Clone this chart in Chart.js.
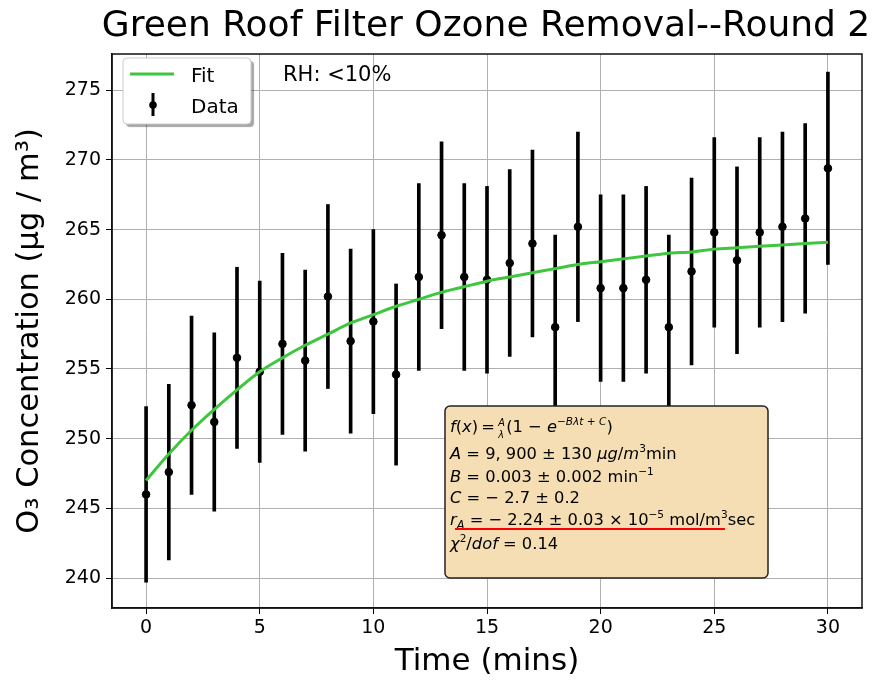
<!DOCTYPE html>
<html>
<head>
<meta charset="utf-8">
<script src="https://cdn.jsdelivr.net/npm/chart.js@4.4.0/dist/chart.umd.min.js"></script>
<style>
  html, body { margin: 0; padding: 0; background: #fff; }
  #wrap { width: 875px; height: 681px; }
</style>
</head>
<body>
<div id="wrap"><canvas id="ozoneChart" width="875" height="681"></canvas></div>
<script>
const timeMins = [0, 1, 2, 3, 4, 5, 6, 7, 8, 9, 10, 11, 12, 13, 14, 15, 16, 17, 18, 19, 20, 21, 22, 23, 24, 25, 26, 27, 28, 29, 30];
const o3Conc = [246.0, 247.6, 252.4, 251.2, 255.8, 254.8, 256.8, 255.6, 260.2, 257.0, 258.4, 254.6, 261.6, 264.6, 261.6, 261.4,
  262.6, 264.0, 258.0, 265.2, 260.8, 260.8, 261.4, 258.0, 262.0, 264.8, 262.8, 264.8, 265.2, 265.8, 269.4];
const o3Err = [6.3, 6.3, 6.4, 6.4, 6.5, 6.5, 6.5, 6.5, 6.6, 6.6, 6.6, 6.5, 6.7, 6.7, 6.7, 6.7,
  6.7, 6.7, 6.6, 6.8, 6.7, 6.7, 6.7, 6.6, 6.7, 6.8, 6.7, 6.8, 6.8, 6.8, 6.9];
const fitConc = [247.0, 248.9, 250.6, 252.1, 253.5, 254.8, 255.8, 256.7, 257.5, 258.3, 258.9, 259.5, 260.0, 260.5, 260.9, 261.3,
  261.6, 261.9, 262.2, 262.5, 262.7, 262.9, 263.1, 263.3, 263.4, 263.6, 263.7, 263.8, 263.9, 264.0, 264.1];
const xTickVals = [0, 5, 10, 15, 20, 25, 30];
const yTickVals = [240, 245, 250, 255, 260, 265, 270, 275];

const FONT = "'DejaVu Sans', sans-serif";
const FIT_GREEN = "#3ec63e";

// draws a run of text pieces (italic / super / sub) left to right
function drawRich(ctx, x, y, segs, size) {
  segs.forEach(s => {
    const sc = s.sc || 1;
    ctx.font = `${s.it ? "italic " : ""}${size * sc}px ${FONT}`;
    ctx.fillText(s.t, x, y + (s.dy || 0));
    x += ctx.measureText(s.t).width;
  });
  return x;
}

const overlay = {
  id: "overlay",
  afterDraw(chart) {
    const ctx = chart.ctx;
    const a = chart.chartArea;
    ctx.save();

    // frame
    ctx.strokeStyle = "#111";
    ctx.lineWidth = 1.5;
    ctx.strokeRect(a.left, a.top, a.right - a.left, a.bottom - a.top);

    // title
    ctx.fillStyle = "#000";
    ctx.textAlign = "center";
    ctx.textBaseline = "alphabetic";
    ctx.font = `36px ${FONT}`;
    ctx.fillText("Green Roof Filter Ozone Removal--Round 2", (a.left + a.right) / 2 - 1, 36);

    // RH note
    ctx.textAlign = "left";
    ctx.font = `21px ${FONT}`;
    ctx.fillText("RH: <10%", 283, 81);

    // legend
    ctx.shadowColor = "rgba(0,0,0,0.35)";
    ctx.shadowOffsetX = 3;
    ctx.shadowOffsetY = 3;
    ctx.shadowBlur = 1;
    ctx.fillStyle = "#fff";
    ctx.beginPath();
    ctx.roundRect(123, 58, 128, 66, 4);
    ctx.fill();
    ctx.shadowColor = "transparent";
    ctx.strokeStyle = "#ccc";
    ctx.lineWidth = 1;
    ctx.stroke();
    ctx.strokeStyle = FIT_GREEN;
    ctx.lineWidth = 3;
    ctx.beginPath();
    ctx.moveTo(130, 74);
    ctx.lineTo(174, 74);
    ctx.stroke();
    ctx.strokeStyle = "#000";
    ctx.lineWidth = 3;
    ctx.beginPath();
    ctx.moveTo(153, 93);
    ctx.lineTo(153, 116);
    ctx.stroke();
    ctx.fillStyle = "#000";
    ctx.beginPath();
    ctx.arc(153, 105, 3.8, 0, Math.PI * 2);
    ctx.fill();
    ctx.font = `20px ${FONT}`;
    ctx.fillText("Fit", 191, 82);
    ctx.fillText("Data", 191, 113);

    // fit-parameter box
    ctx.fillStyle = "#f5deb3";
    ctx.strokeStyle = "#222";
    ctx.lineWidth = 1.5;
    ctx.beginPath();
    ctx.roundRect(445, 406, 323, 172, 5);
    ctx.fill();
    ctx.stroke();

    ctx.fillStyle = "#000";
    const fs = 16.3;
    const x0 = 450;
    let x = drawRich(ctx, x0, 432, [
      { t: "f", it: true }, { t: "(" }, { t: "x", it: true }, { t: ")\u2009=\u2009" }
    ], fs);
    ctx.font = `italic ${fs * 0.6}px ${FONT}`;
    ctx.fillText("A", x, 426);
    ctx.fillText("\u03bb", x, 438);
    x += 8;
    drawRich(ctx, x, 432, [
      { t: "(1 \u2212 " }, { t: "e", it: true },
      { t: "\u2212B\u03bbt + C", it: true, sc: 0.65, dy: -7 }, { t: ")" }
    ], fs);
    drawRich(ctx, x0, 459, [
      { t: "A", it: true }, { t: " = 9, 900 \u00b1 130 " }, { t: "\u03bcg", it: true }, { t: "/" },
      { t: "m", it: true }, { t: "3", sc: 0.65, dy: -7 }, { t: "min" }
    ], fs);
    drawRich(ctx, x0, 482, [
      { t: "B", it: true }, { t: " = 0.003 \u00b1 0.002 min" }, { t: "\u22121", sc: 0.65, dy: -7 }
    ], fs);
    drawRich(ctx, x0, 503, [
      { t: "C", it: true }, { t: " = \u2212 2.7 \u00b1 0.2" }
    ], fs);
    drawRich(ctx, x0, 525, [
      { t: "r", it: true }, { t: "A", it: true, sc: 0.7, dy: 4 },
      { t: " = \u2212 2.24 \u00b1 0.03 \u00d7 10" }, { t: "\u22125", sc: 0.65, dy: -7 },
      { t: " mol/m" }, { t: "3", sc: 0.65, dy: -7 }, { t: "sec" }
    ], fs);
    drawRich(ctx, x0, 549, [
      { t: "\u03c7", it: true }, { t: "2", sc: 0.65, dy: -7 }, { t: "/" }, { t: "dof", it: true },
      { t: " = 0.14" }
    ], fs);
    ctx.strokeStyle = "#ff0000";
    ctx.lineWidth = 2;
    ctx.beginPath();
    ctx.moveTo(455, 529);
    ctx.lineTo(725, 529);
    ctx.stroke();

    ctx.restore();
  }
};

function buildChart() {
  const errBars = timeMins.map((t, i) => ({ x: t, y: [o3Conc[i] - o3Err[i], o3Conc[i] + o3Err[i]] }));
  const points = timeMins.map((t, i) => ({ x: t, y: o3Conc[i] }));
  const fitPts = timeMins.map((t, i) => ({ x: t, y: fitConc[i] }));

  new Chart(document.getElementById("ozoneChart"), {
    type: "scatter",
    data: {
      datasets: [
        {
          type: "line",
          label: "Fit",
          data: fitPts,
          borderColor: FIT_GREEN,
          borderWidth: 3,
          pointRadius: 0,
          cubicInterpolationMode: "monotone",
          fill: false,
          order: 0
        },
        {
          type: "scatter",
          label: "Data",
          data: points,
          backgroundColor: "#000",
          borderColor: "#000",
          pointRadius: 3.8,
          order: 1
        },
        {
          type: "bar",
          label: "err",
          data: errBars,
          backgroundColor: "#000",
          barThickness: 3,
          grouped: false,
          borderWidth: 0,
          order: 2
        }
      ]
    },
    options: {
      responsive: false,
      animation: false,
      layout: { padding: { top: 54, right: 13, bottom: 0, left: 0 } },
      plugins: {
        legend: { display: false },
        title: { display: false },
        tooltip: { enabled: false }
      },
      scales: {
        x: {
          type: "linear",
          min: -1.5,
          max: 31.5,
          offset: false,
          afterBuildTicks: s => { s.ticks = xTickVals.map(v => ({ value: v })); },
          afterFit: s => { s.height = 73; },
          grid: { color: "#b0b0b0", lineWidth: 1, tickColor: "#000", tickLength: 6, offset: false },
          border: { color: "#111", width: 1.5 },
          ticks: { color: "#000", font: { family: FONT, size: 19 }, padding: 3, maxRotation: 0 },
          title: { display: true, text: "Time (mins)", color: "#000", font: { family: FONT, size: 31 }, padding: { top: 0, bottom: 0 } }
        },
        y: {
          type: "linear",
          min: 237.85,
          max: 277.6,
          afterBuildTicks: s => { s.ticks = yTickVals.map(v => ({ value: v })); },
          afterFit: s => { s.width = 112; },
          grid: { color: "#b0b0b0", lineWidth: 1, tickColor: "#000", tickLength: 6 },
          border: { color: "#111", width: 1.5 },
          ticks: { color: "#000", font: { family: FONT, size: 19 }, padding: 5 },
          title: { display: true, text: "O\u2083 Concentration (\u03bcg / m\u00b3)", color: "#000", font: { family: FONT, size: 30.5 }, padding: { top: 12, bottom: 0 } }
        }
      }
    },
    plugins: [overlay]
  });
}

window.addEventListener("DOMContentLoaded", buildChart);
</script>
</body>
</html>
